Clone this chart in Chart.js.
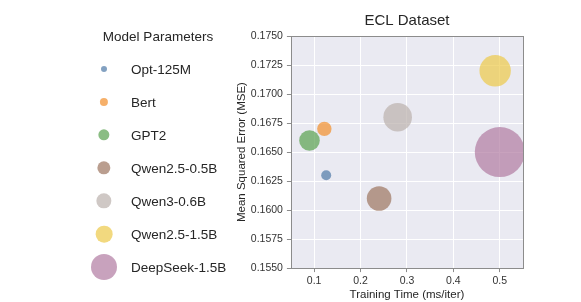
<!DOCTYPE html>
<html>
<head>
<meta charset="utf-8">
<title>ECL Dataset</title>
<script src="https://cdn.jsdelivr.net/npm/chart.js@4.4.0/dist/chart.umd.min.js"></script>
<style>
  html, body { margin: 0; padding: 0; background: #fff; }
  #wrap { position: relative; width: 581px; height: 302px; }
  #chart { position: absolute; left: 0; top: 0; }
  #legend { position: absolute; left: 0; top: 0; width: 240px; height: 302px;
            font-family: "Liberation Sans", Arial, sans-serif; color: #262626; }
  .legend-title { position: absolute; left: 158px; top: 36px; transform: translate(-50%, -50%);
                  font-size: 13.5px; white-space: nowrap; }
  .legend-dot { position: absolute; left: 104px; border-radius: 50%; transform: translate(-50%, -50%); }
  .legend-label { position: absolute; left: 131px; transform: translateY(-50%);
                  font-size: 13.5px; white-space: nowrap; }
</style>
</head>
<body>
<div id="wrap">
  <canvas id="chart" width="581" height="302"></canvas>
  <div id="legend"></div>
</div>
<script>
// data
const models = ['Opt-125M', 'Bert', 'GPT2', 'Qwen2.5-0.5B', 'Qwen3-0.6B', 'Qwen2.5-1.5B', 'DeepSeek-1.5B'];
const trainTime = [0.126, 0.122, 0.09, 0.24, 0.28, 0.49, 0.5];
const mse = [0.163, 0.167, 0.166, 0.161, 0.168, 0.172, 0.165];
const bubbleSize = [5, 7.2, 10.3, 12.3, 14.3, 15.7, 25];
const xTicks = [0.1, 0.2, 0.3, 0.4, 0.5];
const yTicks = [0.155, 0.1575, 0.16, 0.1625, 0.165, 0.1675, 0.17, 0.1725, 0.175];

const colors = ['#4e79a7', '#f28e2b', '#59a14f', '#9c755f', '#bab0ac', '#edc948', '#b07aa1'];
const alpha = 'b3';
const font = '"Liberation Sans", Arial, sans-serif';
const textColor = '#262626';

// seaborn-like panel: grey background + thin frame
const panel = {
    id: 'panel',
    beforeDraw(chart) {
        const {ctx, chartArea: a} = chart;
        ctx.save();
        ctx.fillStyle = '#eaeaf2';
        ctx.fillRect(a.left, a.top, a.right - a.left, a.bottom - a.top);
        ctx.restore();
    },
    afterDraw(chart) {
        const {ctx, chartArea: a} = chart;
        ctx.save();
        ctx.strokeStyle = '#8c8c8c';
        ctx.lineWidth = 1;
        ctx.strokeRect(Math.round(a.left) + 0.5, Math.round(a.top) + 0.5,
                       Math.round(a.right - a.left), Math.round(a.bottom - a.top));
        ctx.restore();
    }
};

const datasets = models.map((name, i) => ({
    label: name,
    data: [{x: trainTime[i], y: mse[i], r: bubbleSize[i]}],
    backgroundColor: colors[i] + alpha,
    borderWidth: 0,
    hoverRadius: 0
}));

new Chart(document.getElementById('chart'), {
    type: 'bubble',
    data: { datasets },
    options: {
        responsive: false,
        animation: false,
        layout: { padding: { left: 233, right: 58, top: 0, bottom: 0 } },
        plugins: {
            legend: { display: false },
            tooltip: { enabled: false },
            title: {
                display: true,
                text: 'ECL Dataset',
                fullSize: false,
                color: textColor,
                font: { family: font, size: 15, weight: 'normal' },
                padding: { top: 11.5, bottom: 6.5 }
            }
        },
        scales: {
            x: {
                min: 0.05,
                max: 0.55,
                afterBuildTicks: s => { s.ticks = xTicks.map(v => ({ value: v })); },
                ticks: {
                    color: '#333',
                    font: { family: font, size: 10.5 },
                    padding: 3,
                    callback: v => v.toFixed(1)
                },
                grid: { color: '#ffffff', lineWidth: 1, tickColor: '#8c8c8c', tickLength: 4 },
                border: { display: false },
                title: {
                    display: true,
                    text: 'Training Time (ms/iter)',
                    color: textColor,
                    font: { family: font, size: 11.5 },
                    padding: { top: -2.5, bottom: 0 }
                }
            },
            y: {
                min: 0.155,
                max: 0.175,
                afterBuildTicks: s => { s.ticks = yTicks.map(v => ({ value: v })); },
                ticks: {
                    color: '#333',
                    font: { family: font, size: 10.5 },
                    padding: 4,
                    callback: v => v.toFixed(4)
                },
                grid: { color: '#ffffff', lineWidth: 1, tickColor: '#8c8c8c', tickLength: 4 },
                border: { display: false },
                title: {
                    display: true,
                    text: 'Mean Squared Error (MSE)',
                    color: textColor,
                    font: { family: font, size: 11.5 },
                    padding: { top: 2, bottom: -2 }
                }
            }
        }
    },
    plugins: [panel]
});

// legend on the left, built from the same arrays
const legend = document.getElementById('legend');
const title = document.createElement('div');
title.className = 'legend-title';
title.textContent = 'Model Parameters';
legend.appendChild(title);
models.forEach((name, i) => {
    const y = 69 + i * 33;
    const dot = document.createElement('div');
    dot.className = 'legend-dot';
    dot.style.top = y + 'px';
    dot.style.width = dot.style.height = (bubbleSize[i] + 1) + 'px';
    dot.style.background = colors[i] + alpha;
    legend.appendChild(dot);
    const label = document.createElement('div');
    label.className = 'legend-label';
    label.style.top = y + 'px';
    label.textContent = name;
    legend.appendChild(label);
});
</script>
</body>
</html>
